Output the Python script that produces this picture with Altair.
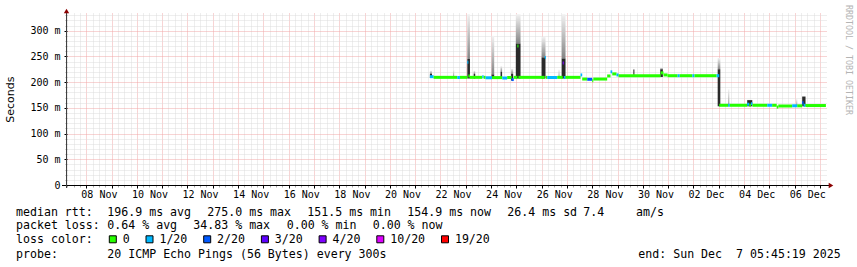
import datetime as dt
import altair as alt
import pandas as pd

# ---------------- data ----------------
loss_levels = ["0", "1/20", "2/20", "3/20", "4/20", "10/20", "19/20"]
loss_colors = ["#26ff00", "#00b8ff", "#0059ff", "#5e00ff", "#7e00ff", "#dd00ff", "#ff0000"]

# median rtt, piecewise (start, end, value in ms, packet loss bucket)
seg_start = ["2025-11-21T14:00", "2025-11-21T17:30", "2025-11-22T16:00", "2025-11-22T18:30", "2025-11-23T01:30",
             "2025-11-23T02:30", "2025-11-23T04:00", "2025-11-23T15:40", "2025-11-23T17:00", "2025-11-23T18:50",
             "2025-11-24T01:00", "2025-11-24T10:40", "2025-11-24T15:20", "2025-11-24T19:30", "2025-11-24T21:30",
             "2025-11-25T01:00", "2025-11-25T02:00", "2025-11-26T03:00", "2025-11-26T04:00", "2025-11-26T05:20",
             "2025-11-26T14:50", "2025-11-26T20:00", "2025-11-26T21:00", "2025-11-26T22:40", "2025-11-27T12:55",
             "2025-11-27T14:30", "2025-11-27T19:15", "2025-11-28T00:00", "2025-11-28T01:00", "2025-11-28T14:10",
             "2025-11-28T17:20", "2025-11-28T19:00", "2025-11-28T23:00", "2025-11-29T01:00", "2025-11-30T16:50",
             "2025-11-30T19:35", "2025-11-30T23:25", "2025-12-01T09:00", "2025-12-01T11:00", "2025-12-01T23:00",
             "2025-12-02T01:00", "2025-12-02T22:00", "2025-12-03T00:30", "2025-12-03T09:00", "2025-12-03T10:30",
             "2025-12-04T03:00", "2025-12-04T05:00", "2025-12-04T06:30", "2025-12-04T08:00", "2025-12-04T22:00",
             "2025-12-05T02:40", "2025-12-05T07:00", "2025-12-05T08:30", "2025-12-05T21:40", "2025-12-06T02:30",
             "2025-12-06T07:10", "2025-12-06T08:30", "2025-12-06T10:20"]
seg_end = seg_start[1:] + ["2025-12-07T05:40"]
seg_median = [210.6, 209.3, 209.0, 209.3, 238.5,
              212.0, 209.3, 210.5, 209.3, 208.5,
              208.8, 208.0, 209.0, 205.0, 209.3,
              270.0, 209.3, 248.0, 209.3, 209.0,
              209.3, 237.0, 209.0, 209.3, 214.0,
              206.0, 205.5, 202.5, 206.0, 212.0,
              220.0, 216.0, 214.0, 212.5, 218.0,
              214.0, 212.5, 212.5, 212.5, 212.5,
              212.5, 212.5, 155.0, 155.0, 155.0,
              157.0, 155.0, 158.0, 155.0, 155.0,
              155.0, 151.5, 153.6, 154.0, 154.0,
              160.0, 155.0, 154.5]
seg_loss = ["1/20", "0", "1/20", "0", "1/20",
            "0", "0", "1/20", "0", "1/20",
            "0", "1/20", "0", "2/20", "0",
            "0", "0", "1/20", "0", "1/20",
            "0", "4/20", "1/20", "0", "1/20",
            "0", "2/20", "0", "0", "0",
            "1/20", "0", "1/20", "0", "0",
            "0", "0", "1/20", "0", "1/20",
            "0", "1/20", "0", "1/20", "0",
            "1/20", "0", "1/20", "0", "1/20",
            "0", "0", "0", "1/20", "0",
            "2/20", "1/20", "0"]

# smoke (spread of the 20 pings) where it shows above the median line
smoke_start = ["2025-11-21T14:00", "2025-11-22T12:00", "2025-11-23T01:30", "2025-11-23T07:30", "2025-11-24T00:30",
               "2025-11-24T09:00", "2025-11-24T19:00", "2025-11-24T23:30", "2025-11-25T23:55", "2025-11-26T16:00",
               "2025-11-26T19:00", "2025-11-29T15:00", "2025-11-30T16:30", "2025-12-02T23:00", "2025-12-03T09:00",
               "2025-12-04T03:00", "2025-12-06T01:30", "2025-12-06T07:10"]
smoke_end = ["2025-11-21T16:00", "2025-11-22T13:00", "2025-11-23T04:00", "2025-11-23T09:00", "2025-11-24T03:00",
             "2025-11-24T10:30", "2025-11-24T21:00", "2025-11-25T04:00", "2025-11-26T03:40", "2025-11-26T17:00",
             "2025-11-26T22:40", "2025-11-29T16:00", "2025-11-30T19:00", "2025-12-03T01:30", "2025-12-03T10:00",
             "2025-12-04T07:50", "2025-12-06T02:30", "2025-12-06T10:20"]
smoke_lo = [208, 208, 207, 207, 207, 207, 203, 207, 207, 208, 207, 210, 210, 153, 153, 153, 153, 153]
smoke_dark = [216, 208, 245, 216, 215, 220, 216, 275, 248, 208, 246, 224, 225, 225, 153, 165, 153, 172]
smoke_max = [222, 224, 332, 222, 290, 231, 226, 332, 288, 224, 332, 226, 228, 247, 186, 166, 167, 172]

y_major = [0, 50, 100, 150, 200, 250, 300]
y_minor = [v for v in range(10, 340, 10) if v % 50 != 0]

rtt_stats = ["196.9 ms avg", "275.0 ms max", "151.5 ms min", "154.9 ms now", "26.4 ms sd", "7.4", "am/s"]
loss_stats = ["0.64 % avg", "34.83 % max", "0.00 % min", "0.00 % now"]
probe_text = "20 ICMP Echo Pings (56 Bytes) every 300s"
end_text = "end: Sun Dec  7 05:45:19 2025"

segments = pd.DataFrame({"start": seg_start, "end": seg_end, "median": seg_median, "loss": seg_loss})
smoke = pd.DataFrame({"start": smoke_start, "end": smoke_end, "lo": smoke_lo, "dark": smoke_dark, "max": smoke_max})

# ---------------- layout / style ----------------
W, H = 759, 172
PL, PT = 67, 13
MONO = "DejaVu Sans Mono"
CW = 7.0  # advance of one legend character


def dtobj(d):
    return alt.DateTime(year=d.year, month=d.month, date=d.day, hours=d.hour, minutes=d.minute, seconds=d.second)


t0 = dt.datetime(2025, 11, 7, 5, 45, 19)
t1 = dt.datetime(2025, 12, 7, 5, 45, 19)
xscale = alt.Scale(domain=[dtobj(t0), dtobj(t1)])
yscale = alt.Scale(domain=[0, 334.4], nice=False, zero=False)

major_x = [dtobj(dt.datetime(2025, 11, 8) + dt.timedelta(days=i)) for i in range(30)]
minor_x = []
t = dt.datetime(2025, 11, 7, 6)
while t < t1:
    if t.hour != 0:
        minor_x.append(dtobj(t))
    t += dt.timedelta(hours=6)

ax_x_minor = alt.Axis(orient="bottom", values=minor_x, grid=True, gridColor="#dcdcdc", gridDash=[1, 1],
                      ticks=True, tickSize=2, tickColor="#aaaaaa", labels=False, domain=False, title=None)
ax_x_major = alt.Axis(orient="bottom", values=major_x, grid=True, gridColor="#f0a8a8", gridDash=[1, 1],
                      ticks=True, tickSize=3, tickColor="#000000", domain=False, title=None,
                      labelExpr="date(datum.value) % 2 == 0 ? timeFormat(datum.value, '%d %b') : ''",
                      labelOffset=12.65, labelFont=MONO, labelFontSize=10, labelColor="#000000",
                      labelPadding=1.5, labelOverlap=False, labelFlush=False, labelBound=False)
ax_y_minor = alt.Axis(orient="left", values=y_minor, grid=True, gridColor="#dcdcdc", gridDash=[1, 1],
                      ticks=True, tickSize=2, tickColor="#aaaaaa", labels=False, domain=False, title=None)
ax_y_major = alt.Axis(orient="left", values=y_major, grid=True, gridColor="#f0a8a8", gridDash=[1, 1],
                      ticks=True, tickSize=3, tickColor="#000000", domain=False, title=None,
                      labelExpr="datum.value == 0 ? '0' : datum.value + ' m'",
                      labelFont=MONO, labelFontSize=10, labelColor="#000000", labelPadding=4,
                      labelOverlap=False, labelFlush=False)

gradient = alt.Gradient(gradient="linear",
                        stops=[alt.GradientStop(color="#f2f2f2", offset=0),
                               alt.GradientStop(color="#858585", offset=1)],
                        x1=0, x2=0, y1=0, y2=1)

smoke_light = alt.Chart(smoke).mark_rect(fill=gradient).encode(
    x=alt.X("start:T", scale=xscale, axis=ax_x_minor),
    x2="end:T",
    y=alt.Y("dark:Q", scale=yscale, axis=ax_y_minor),
    y2="max:Q",
)
smoke_core = alt.Chart(smoke).mark_rect(fill="#2a2a2a").encode(
    x=alt.X("start:T", scale=xscale, axis=ax_x_major),
    x2="end:T",
    y=alt.Y("lo:Q", scale=yscale, axis=ax_y_major),
    y2="dark:Q",
)
median_line = alt.Chart(segments).mark_rule(strokeWidth=3).encode(
    x=alt.X("start:T", scale=xscale, axis=None),
    x2="end:T",
    y=alt.Y("median:Q", scale=yscale, axis=None),
    stroke=alt.Stroke("loss:N", scale=alt.Scale(domain=loss_levels, range=loss_colors), legend=None),
)

one = pd.DataFrame({"a": [0]})


def nb(s):
    return s.replace(" ", "\u00a0")


def txt(s, x, y, size=11.6, font=MONO, angle=0, align="left", baseline="alphabetic", color="#000000"):
    return alt.Chart(one).mark_text(text=nb(s), font=font, fontSize=size, angle=angle, align=align,
                                    baseline=baseline, color=color).encode(
        x=alt.value(x - PL), y=alt.value(y - PT))


ROW1, ROW2, ROW3, ROW4 = 215.8, 229.2, 243.4, 257.5
GAP = 16

texts = [txt("median rtt:", 16, ROW1)]
for s, x in zip(rtt_stats, [107.3, 207.3, 307.3, 407.3, 507.3, 583.3, 636]):
    texts.append(txt(s, x, ROW1))
texts.append(txt("packet loss:", 16, ROW2))
for s, x in zip(loss_stats, [107.3, 193.3, 286.7, 372.7]):
    texts.append(txt(s, x, ROW2))
texts.append(txt("probe:", 16, ROW4))
texts.append(txt(probe_text, 107.3, ROW4))
texts.append(txt(end_text, 638.3, ROW4))
texts.append(txt("Seconds", 11.2, 99.7, size=11, font="DejaVu Sans", angle=270, align="center", baseline="middle"))
texts.append(txt("RRDTOOL / TOBI OETIKER", 848, 60, size=8.3, angle=90, align="center", baseline="middle",
                 color="#b4b4b4"))

# loss colour legend, laid out like rrdtool's legend line
legend_marks = [txt("loss color:", 16, ROW3)]
lx = 16 + len("loss color:") * CW + GAP
for lab, col in zip(loss_levels, loss_colors):
    legend_marks.append(
        alt.Chart(one).mark_square(size=49, filled=True, fill=col, stroke="#000000", strokeWidth=1,
                                   opacity=1).encode(x=alt.value(lx + 3.8 - PL), y=alt.value(239.3 - PT)))
    legend_marks.append(txt(lab, lx + 13.7, ROW3))
    lx = lx + 13.7 + len(lab) * CW + GAP

x_axis_line = alt.Chart(one).mark_rule(color="#000000", strokeWidth=1).encode(
    x=alt.value(62 - PL), x2=alt.value(829 - PL), y=alt.value(185.5 - PT))
y_axis_line = alt.Chart(one).mark_rule(color="#404040", strokeWidth=1).encode(
    x=alt.value(66.5 - PL), y=alt.value(11 - PT), y2=alt.value(188 - PT))
x_arrow = alt.Chart(one).mark_point(shape="triangle-right", filled=True, size=28, color="#8b0000",
                                    opacity=1).encode(x=alt.value(831 - PL), y=alt.value(185.5 - PT))
y_arrow = alt.Chart(one).mark_point(shape="triangle-up", filled=True, size=28, color="#8b0000",
                                    opacity=1).encode(x=alt.value(66.5 - PL), y=alt.value(11 - PT))

chart = alt.layer(
    smoke_light, smoke_core, median_line,
    x_axis_line, y_axis_line, x_arrow, y_arrow, *texts, *legend_marks
).resolve_axis(x="independent", y="independent").properties(
    width=W, height=H,
    autosize=alt.AutoSizeParams(type="none"),
    padding={"left": PL, "top": PT, "right": 857 - PL - W, "bottom": 267 - PT - H},
    background="#ffffff",
).configure_view(stroke=None)

chart.save("out.html", embed_options={"renderer": "svg", "actions": False})
